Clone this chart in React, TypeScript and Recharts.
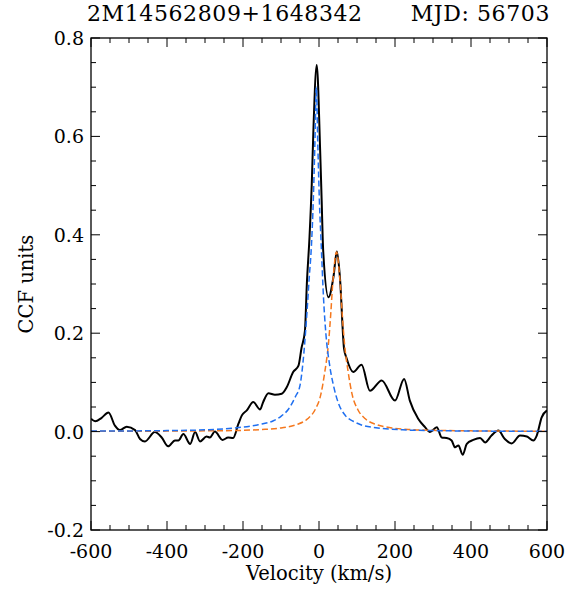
import React from 'react';
import { LineChart, Line, XAxis, YAxis } from 'recharts';

const velocity = [-600,-589,-572,-554,-537,-524,-506,-484,-471,-458,-432,-414,-397,-379,-370,-357,-339,-326,-313,-296,-287,-274,-254,-239,-226,-212,-203,-190,-173,-155,-147,-133,-116,-98,-85,-68,-54,-46,-37,-32,-25,-19,-15,-6,3,7,11,25,38,47,55,66,73,90,112,134,165,200,224,239,261,279,292,310,323,336,349,358,367,378,389,406,424,437,454,472,489,507,529,547,564,573,586,600];
const ccf = [0.026,0.021,0.028,0.039,0.012,0.003,0.010,0.003,-0.015,-0.020,-0.001,-0.012,-0.030,-0.018,-0.018,-0.005,-0.025,-0.001,-0.020,-0.010,-0.012,0.000,-0.017,-0.012,-0.013,0.016,0.033,0.043,0.060,0.045,0.060,0.078,0.075,0.077,0.090,0.121,0.134,0.170,0.205,0.300,0.395,0.504,0.606,0.745,0.572,0.470,0.368,0.273,0.314,0.366,0.314,0.168,0.148,0.121,0.136,0.083,0.104,0.063,0.107,0.063,0.026,0.009,-0.001,0.009,-0.012,-0.013,-0.018,-0.032,-0.028,-0.047,-0.025,-0.017,-0.013,-0.022,-0.008,0.002,-0.015,-0.024,-0.008,-0.010,-0.018,-0.008,0.029,0.043];

const blueVel = [-600,-500,-400,-300,-230,-160,-120,-100,-80,-62,-50,-40,-32,-26,-20,-15,-11,-7,-3,1,6,12,18,28,38,50,70,90,110,150,220,300,400,500,600];
const blueFit = [0.001,0.0013,0.002,0.0036,0.0067,0.014,0.022,0.031,0.046,0.071,0.094,0.158,0.239,0.31,0.377,0.47,0.58,0.70,0.58,0.47,0.377,0.27,0.20,0.135,0.094,0.06,0.032,0.021,0.014,0.0078,0.0036,0.002,0.0012,0.0008,0.0006];

const orangeVel = [-600,-500,-400,-300,-200,-150,-100,-60,-30,-10,5,15,25,31,36,40,43,46,49,52,56,61,67,77,87,102,122,152,192,242,292,400,500,600];
const orangeFit = [0.0005,0.0007,0.001,0.0015,0.0026,0.0042,0.0075,0.014,0.026,0.045,0.076,0.12,0.18,0.24,0.30,0.335,0.357,0.365,0.357,0.335,0.30,0.24,0.18,0.12,0.076,0.045,0.026,0.014,0.0075,0.0042,0.0028,0.0015,0.001,0.0007];

const xTicks = [-600,-550,-500,-450,-400,-350,-300,-250,-200,-150,-100,-50,0,50,100,150,200,250,300,350,400,450,500,550,600];
const yTicks = [-0.2,-0.15,-0.1,-0.05,0,0.05,0.1,0.15,0.2,0.25,0.3,0.35,0.4,0.45,0.5,0.55,0.6,0.65,0.7,0.75,0.8];

const titleLeft = '2M14562809+1648342';
const titleRight = 'MJD: 56703';
const xLabel = 'Velocity (km/s)';
const yLabel = 'CCF units';

const obsData = velocity.map((v, i) => ({ v, y: ccf[i] }));
const blueData = blueVel.map((v, i) => ({ v, y: blueFit[i] }));
const orangeData = orangeVel.map((v, i) => ({ v, y: orangeFit[i] }));

const FONT = 'DejaVu Serif';
const W = 583, H = 593;
const PL = 91, PR = 547, PT = 38, PB = 530;
const M = { top: PT - 1, right: W - PR - 1, bottom: H - PB - 1, left: PL - 1 };

const isMajorX = (v: number) => Math.abs(v) % 200 === 0;
const isMajorY = (v: number) => Math.abs(v * 5 - Math.round(v * 5)) < 1e-6;

const XTickBottom = (props: any) => {
  const { x, payload } = props;
  const major = isMajorX(payload.value);
  const len = major ? 9 : 5;
  return (
    <g>
      <line x1={x} y1={PB} x2={x} y2={PB - len} stroke="#000" strokeWidth={1} />
      {major && (
        <text x={x} y={PB + 28} textAnchor="middle" fontFamily={FONT} fontSize={19} fill="#000">
          {String(payload.value)}
        </text>
      )}
    </g>
  );
};

const XTickTop = (props: any) => {
  const { x, payload } = props;
  const major = isMajorX(payload.value);
  const len = major ? 9 : 5;
  return <line x1={x} y1={PT} x2={x} y2={PT + len} stroke="#000" strokeWidth={1} />;
};

const YTickLeft = (props: any) => {
  const { y, payload } = props;
  const major = isMajorY(payload.value);
  const len = major ? 9 : 5;
  return (
    <g>
      <line x1={PL} y1={y} x2={PL + len} y2={y} stroke="#000" strokeWidth={1} />
      {major && (
        <text x={PL - 7} y={y + 7} textAnchor="end" fontFamily={FONT} fontSize={19} fill="#000">
          {payload.value.toFixed(1)}
        </text>
      )}
    </g>
  );
};

const YTickRight = (props: any) => {
  const { y, payload } = props;
  const major = isMajorY(payload.value);
  const len = major ? 9 : 5;
  return <line x1={PR} y1={y} x2={PR - len} y2={y} stroke="#000" strokeWidth={1} />;
};

export default function App() {
  return (
    <div style={{ position: 'absolute', left: 0, top: 0, width: W, height: H, background: '#fff' }}>
      <LineChart width={W} height={H} margin={M}>
        <XAxis dataKey="v" type="number" xAxisId="b" domain={[-600, 600]} ticks={xTicks} interval={0}
          height={1} tickSize={0} tickMargin={0} tickLine={false} tick={<XTickBottom />}
          axisLine={false} allowDataOverflow />
        <XAxis dataKey="v" type="number" xAxisId="t" orientation="top" domain={[-600, 600]} ticks={xTicks} interval={0}
          height={1} tickSize={0} tickMargin={0} tickLine={false} tick={<XTickTop />}
          axisLine={false} allowDataOverflow />
        <YAxis type="number" yAxisId="l" domain={[-0.2, 0.8]} ticks={yTicks} interval={0}
          width={1} tickSize={0} tickMargin={0} tickLine={false} tick={<YTickLeft />}
          axisLine={false} allowDataOverflow />
        <YAxis type="number" yAxisId="r" orientation="right" domain={[-0.2, 0.8]} ticks={yTicks} interval={0}
          width={1} tickSize={0} tickMargin={0} tickLine={false} tick={<YTickRight />}
          axisLine={false} allowDataOverflow />
        <Line data={obsData} dataKey="y" xAxisId="b" yAxisId="l" type="monotone" stroke="#000" strokeWidth={2}
          dot={false} isAnimationActive={false} />
        <Line data={orangeData} dataKey="y" xAxisId="b" yAxisId="l" type="monotone" stroke="#f5781e" strokeWidth={1.5}
          strokeDasharray="6 3" dot={false} isAnimationActive={false} />
        <Line data={blueData} dataKey="y" xAxisId="b" yAxisId="l" type="monotone" stroke="#1f6ff0" strokeWidth={1.5}
          strokeDasharray="6 3" dot={false} isAnimationActive={false} />
      </LineChart>
      <svg width={W} height={H} style={{ position: 'absolute', left: 0, top: 0, pointerEvents: 'none' }}>
        <rect x={PL} y={PT} width={PR - PL} height={PB - PT} fill="none" stroke="#000" strokeWidth={1.3} />
        <text x={87} y={21} fontFamily={FONT} fontSize={22} letterSpacing={0.6} fill="#000">{titleLeft}</text>
        <text x={550} y={21} textAnchor="end" fontFamily={FONT} fontSize={22} letterSpacing={0.6} fill="#000">{titleRight}</text>
        <text x={(PL + PR) / 2} y={580} textAnchor="middle" fontFamily={FONT} fontSize={19.5} fill="#000">{xLabel}</text>
        <text x={33} y={(PT + PB) / 2} textAnchor="middle" fontFamily={FONT} fontSize={19.5} fill="#000"
          transform={`rotate(-90 33 ${(PT + PB) / 2})`}>{yLabel}</text>
      </svg>
    </div>
  );
}
